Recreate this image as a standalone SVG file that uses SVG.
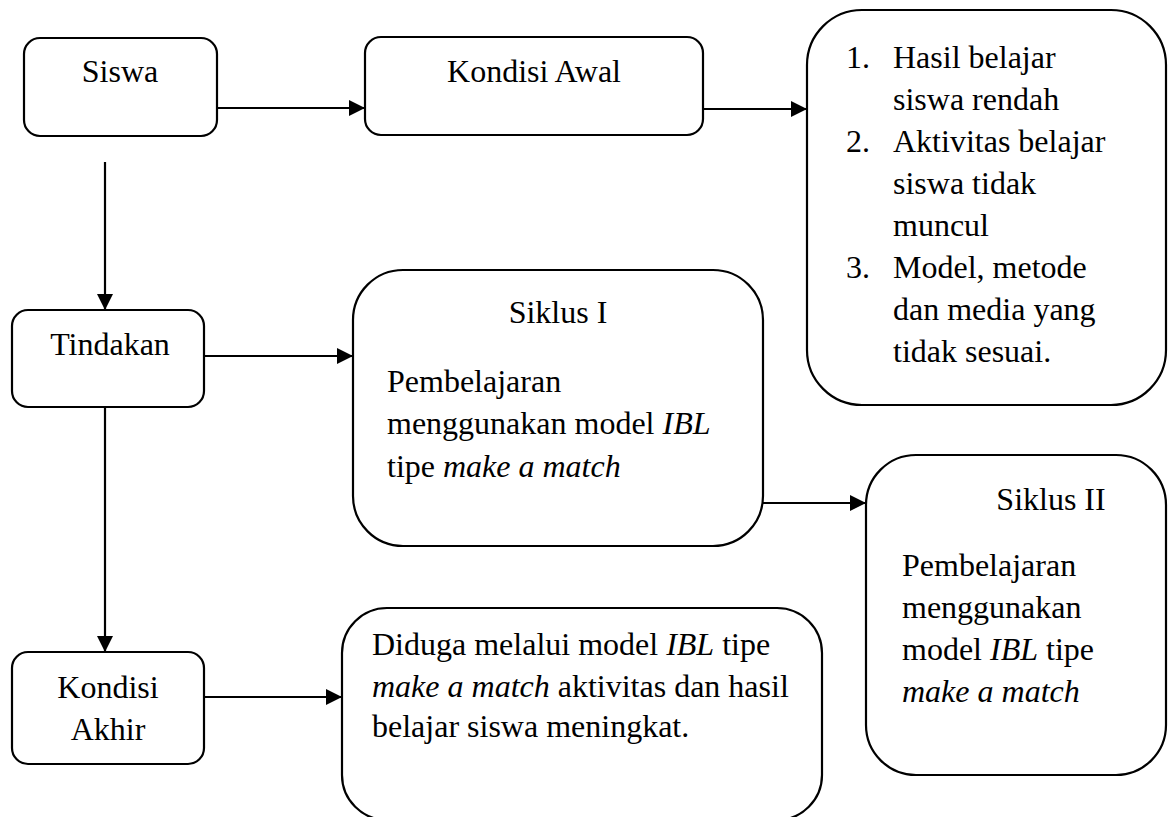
<svg xmlns="http://www.w3.org/2000/svg" width="1168" height="817" viewBox="0 0 1168 817">
<style>
  .box { fill: #ffffff; stroke: #000000; stroke-width: 2.2; }
  .edge { fill: none; stroke: #000000; stroke-width: 2.2; marker-end: url(#arrow); }
  text { font-size: 32px; fill: #000000; }
  .c { text-anchor: middle; }
  .i { font-style: italic; }
</style>
<defs>
  <marker id="arrow" markerUnits="userSpaceOnUse" markerWidth="16" markerHeight="16" viewBox="0 0 16 16" refX="16" refY="8" orient="auto">
    <path d="M0,0 L16,8 L0,16 Z" fill="#000000"/>
  </marker>
</defs>
<rect width="1168" height="817" fill="#ffffff"/>

<g id="connectors">
  <line class="edge" x1="217" y1="108" x2="365" y2="108"/>
  <line class="edge" x1="703" y1="109" x2="807" y2="109"/>
  <line class="edge" x1="105" y1="162" x2="105" y2="310"/>
  <line class="edge" x1="204" y1="356" x2="353" y2="356"/>
  <line class="edge" x1="763" y1="503" x2="866" y2="503"/>
  <line class="edge" x1="105" y1="407" x2="105" y2="652"/>
  <line class="edge" x1="204" y1="697" x2="342" y2="697"/>
</g>

<g font-family="'Liberation Serif', 'Times New Roman', Times, 'DejaVu Serif', serif">
<g id="siswa">
  <rect class="box" x="24" y="38" width="193" height="98" rx="16"/>
  <text class="c" x="120" y="82">Siswa</text>
</g>

<g id="kondisi-awal">
  <rect class="box" x="365" y="37" width="338" height="98" rx="16"/>
  <text class="c" x="534" y="82">Kondisi Awal</text>
</g>

<g id="masalah">
  <rect class="box" x="807" y="10" width="359" height="395" rx="55"/>
  <text x="846" y="68">1.</text><text x="893" y="68">Hasil belajar</text>
  <text x="893" y="110">siswa rendah</text>
  <text x="846" y="152">2.</text><text x="893" y="152">Aktivitas belajar</text>
  <text x="893" y="194">siswa tidak</text>
  <text x="893" y="236">muncul</text>
  <text x="846" y="278">3.</text><text x="893" y="278">Model, metode</text>
  <text x="893" y="320">dan media yang</text>
  <text x="893" y="362">tidak sesuai.</text>
</g>

<g id="tindakan">
  <rect class="box" x="12" y="310" width="192" height="97" rx="16"/>
  <text class="c" x="110" y="355">Tindakan</text>
</g>

<g id="siklus-1">
  <rect class="box" x="353" y="270" width="410" height="276" rx="50"/>
  <text class="c" x="558" y="323">Siklus I</text>
  <text x="387" y="392">Pembelajaran</text>
  <text x="387" y="434">menggunakan model <tspan class="i">IBL</tspan></text>
  <text x="387" y="477">tipe <tspan class="i">make a match</tspan></text>
</g>

<g id="siklus-2">
  <rect class="box" x="866" y="455" width="300" height="320" rx="50"/>
  <text class="c" x="1051" y="510">Siklus II</text>
  <text x="902" y="576">Pembelajaran</text>
  <text x="902" y="618">menggunakan</text>
  <text x="902" y="660">model <tspan class="i">IBL</tspan> tipe</text>
  <text x="902" y="702" class="i">make a match</text>
</g>

<g id="kondisi-akhir">
  <rect class="box" x="12" y="652" width="192" height="112" rx="16"/>
  <text class="c" x="108" y="698">Kondisi</text>
  <text class="c" x="108" y="740">Akhir</text>
</g>

<g id="hipotesis">
  <rect class="box" x="342" y="608" width="480" height="212" rx="45"/>
  <text x="372" y="655">Diduga melalui model <tspan class="i">IBL</tspan> tipe</text>
  <text x="372" y="697"><tspan class="i">make a match</tspan> aktivitas dan hasil</text>
  <text x="372" y="737">belajar siswa meningkat.</text>
</g>
</g>
</svg>
